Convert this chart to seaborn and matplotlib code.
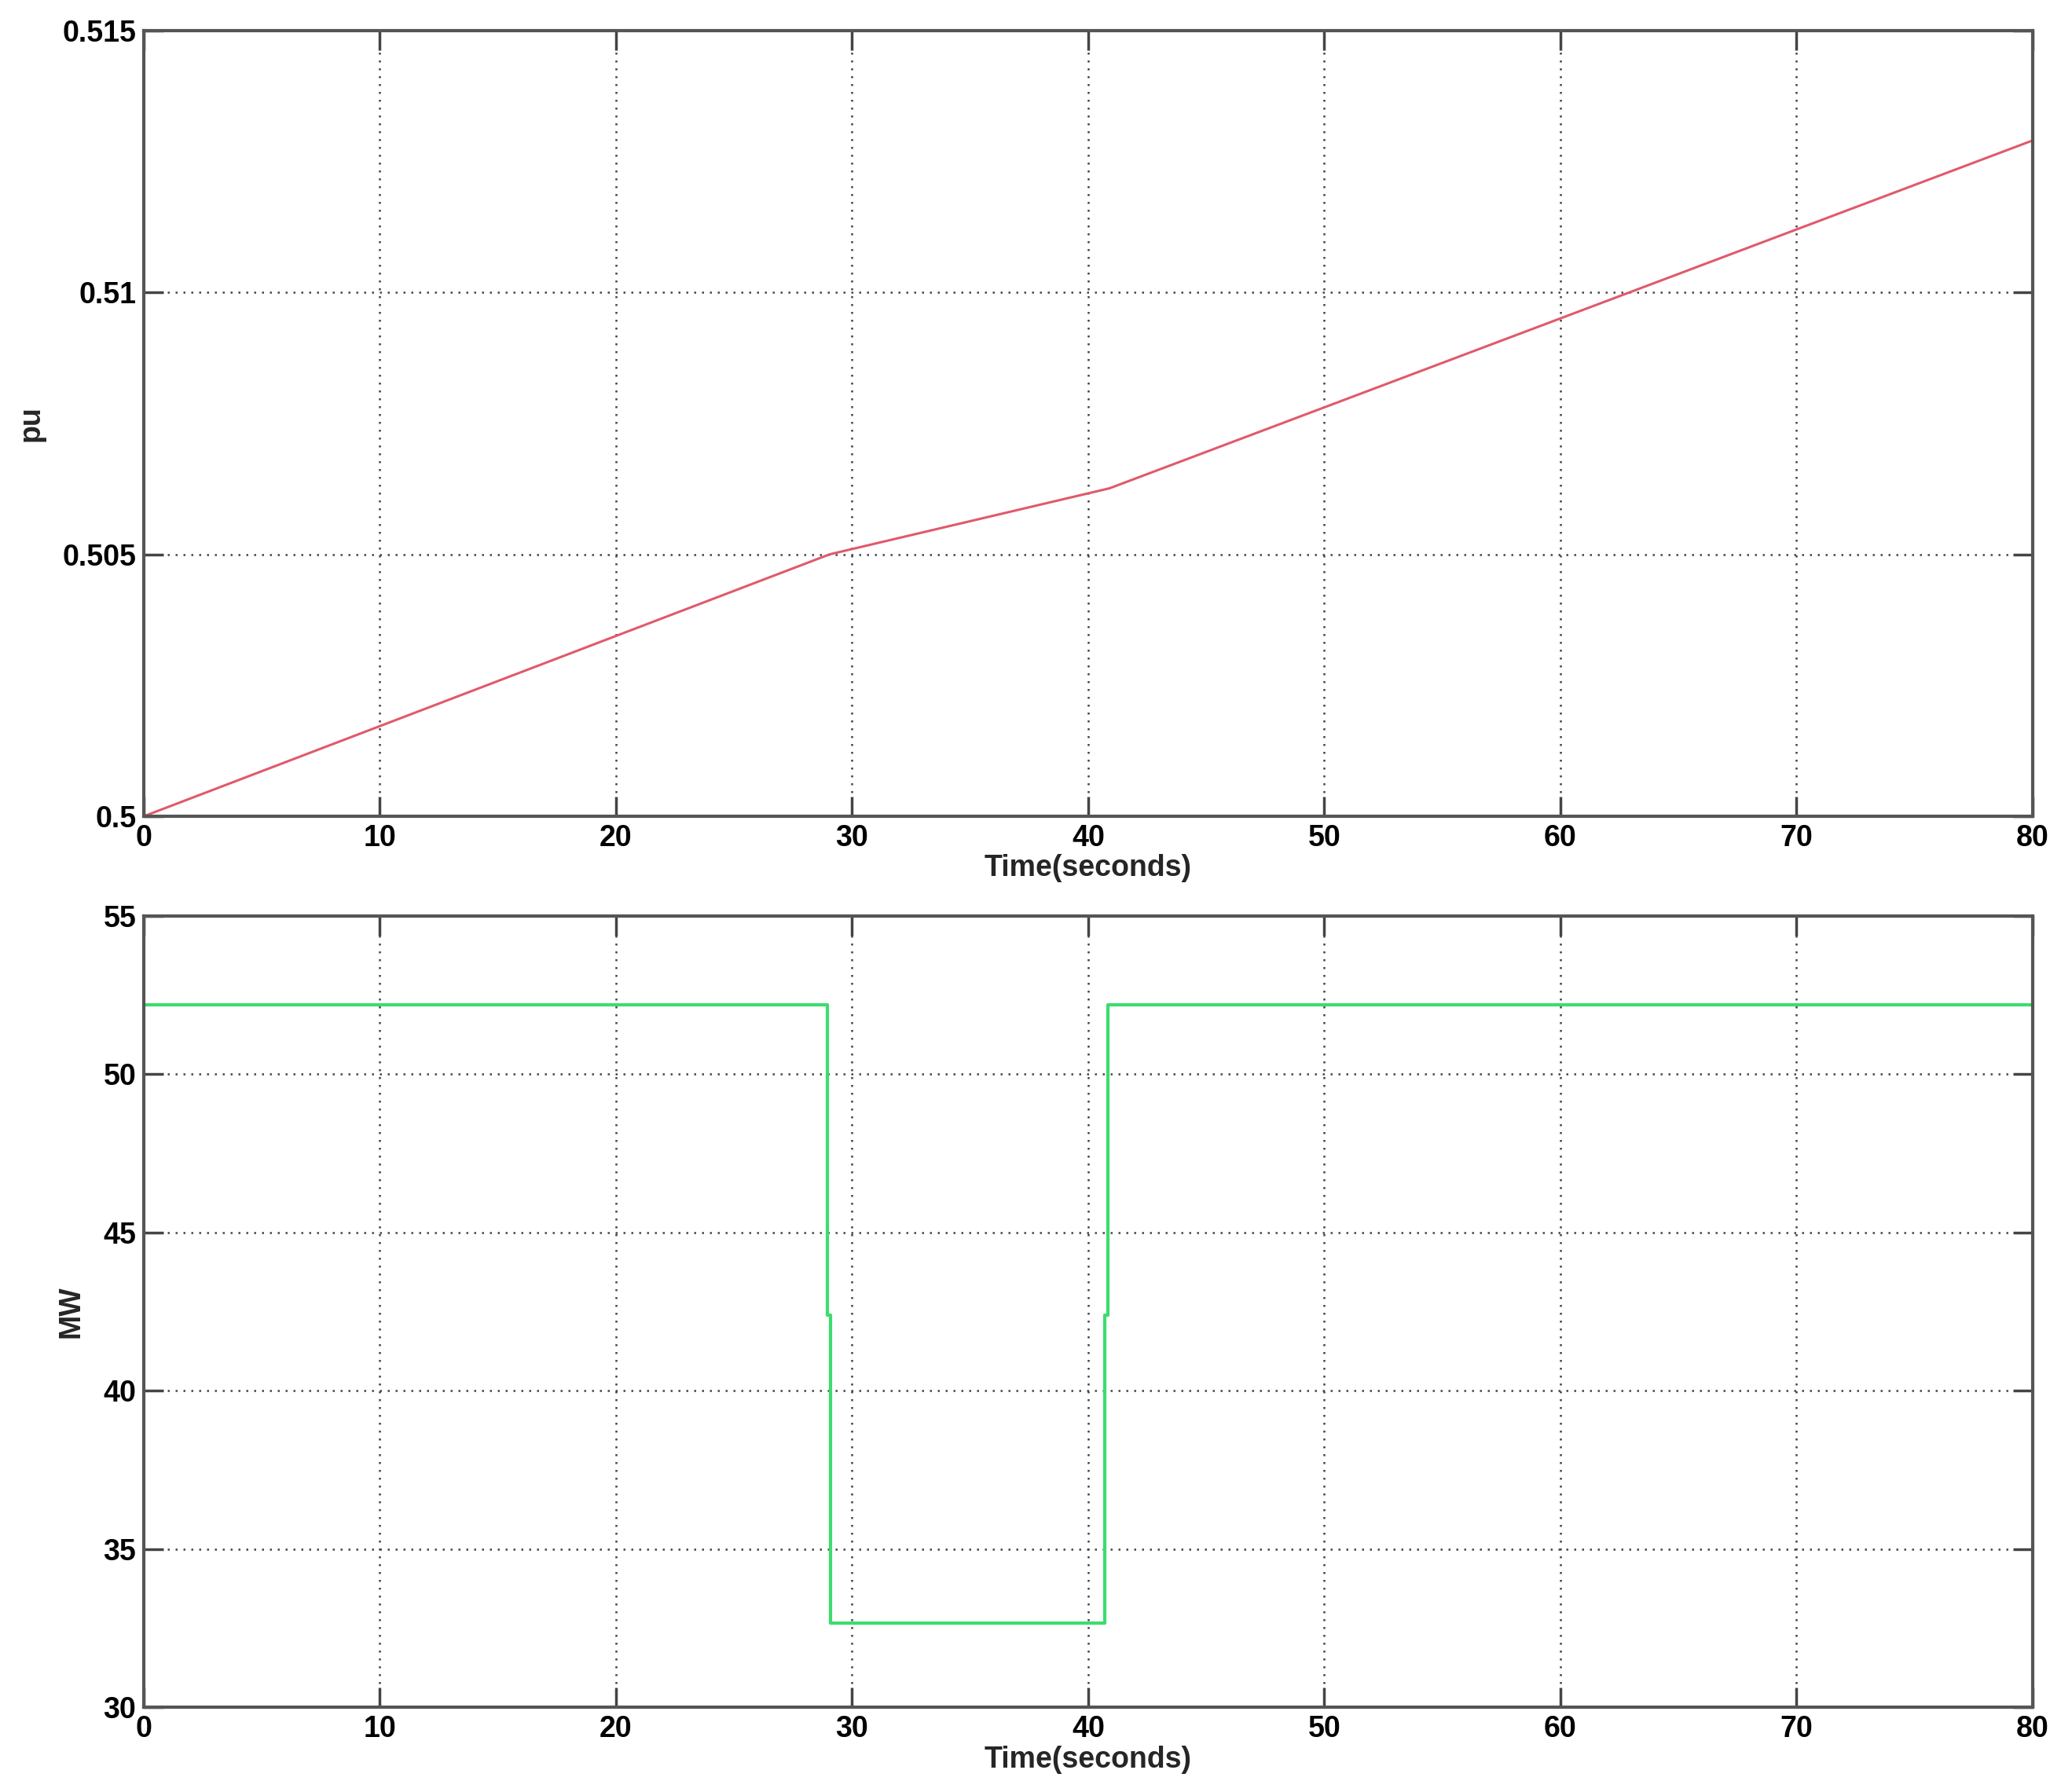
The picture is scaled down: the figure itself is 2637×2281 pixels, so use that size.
import matplotlib
matplotlib.use("Agg")
import matplotlib.pyplot as plt
import seaborn as sns
import pandas as pd
from matplotlib.ticker import FuncFormatter

# ---- data ----
pu_time = [0.0, 29.05, 40.9, 80.0]
pu_value = [0.5, 0.505, 0.50626, 0.5129]

mw_time = [0.0, 28.95, 28.95, 29.1, 29.1, 40.7, 40.7, 40.82, 40.82, 80.0]
mw_value = [52.19, 52.19, 42.4, 42.4, 32.67, 32.67, 42.4, 42.4, 52.19, 52.19]

x_ticks = [0, 10, 20, 30, 40, 50, 60, 70, 80]
pu_ticks = [0.5, 0.505, 0.51, 0.515]
mw_ticks = [30, 35, 40, 45, 50, 55]

sns.set_theme(style="white")
plt.rcParams['font.family'] = ['Liberation Sans', 'DejaVu Sans']

fig = plt.figure(figsize=(26.37, 22.81), dpi=100)
ax1 = fig.add_axes([0.0694, 0.5445, 0.9116, 0.4385])
ax2 = fig.add_axes([0.0694, 0.0473, 0.9116, 0.4415])

df1 = pd.DataFrame({"t": pu_time, "v": pu_value})
df2 = pd.DataFrame({"t": mw_time, "v": mw_value})

sns.lineplot(data=df1, x="t", y="v", ax=ax1, color="#e05a6a", linewidth=2.2,
             sort=False, estimator=None)
sns.lineplot(data=df2, x="t", y="v", ax=ax2, color="#3ddc6e", linewidth=3.0,
             sort=False, estimator=None)

def fmt(v, pos):
    s = ("%.4f" % v).rstrip('0').rstrip('.')
    return s

FS = 27
for ax, yt, ylab, lims in [(ax1, pu_ticks, "pu", (0.5, 0.515)),
                           (ax2, mw_ticks, "MW", (30, 55))]:
    ax.set_xlim(0, 80)
    ax.set_ylim(*lims)
    ax.set_xticks(x_ticks)
    ax.set_yticks(yt)
    ax.yaxis.set_major_formatter(FuncFormatter(fmt))
    ax.grid(True, color="#444444", linestyle=(0, (1, 3)), linewidth=1.8)
    ax.set_axisbelow(True)
    for sp in ax.spines.values():
        sp.set_visible(True)
        sp.set_color("#555555")
        sp.set_linewidth(3)
    ax.tick_params(direction="in", length=18, width=2.5, color="#444444",
                   top=True, right=True, bottom=True, left=True,
                   labelsize=FS, labelcolor="black", pad=7)
    for lab in ax.get_xticklabels() + ax.get_yticklabels():
        lab.set_fontweight("bold")
    ax.set_xlabel("Time(seconds)", fontsize=FS, fontweight="bold", labelpad=2)
    ax.set_ylabel(ylab, fontsize=FS, fontweight="bold")

ax1.yaxis.set_label_coords(-0.052, 0.5)
ax2.yaxis.set_label_coords(-0.031, 0.5)

fig.savefig("out.png", dpi=100)
